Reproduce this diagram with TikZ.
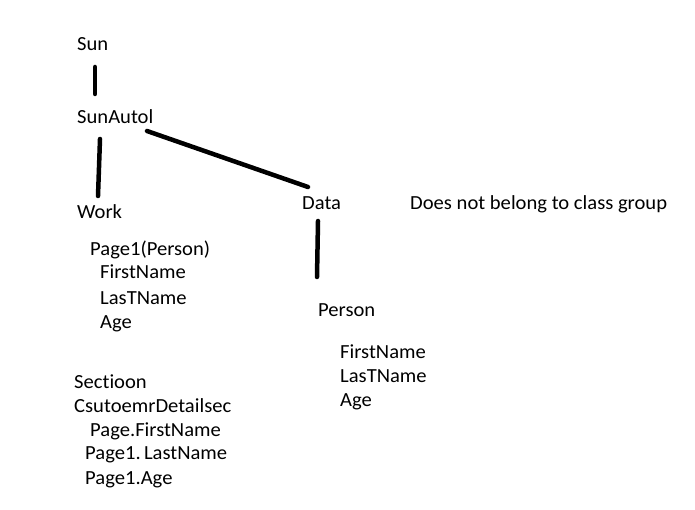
\documentclass[tikz,border=0pt]{standalone}
\usepackage{fontspec}
\setmainfont{Carlito}[Ligatures={NoCommon},FakeStretch=1.03]
\begin{document}
\begin{tikzpicture}[x=1pt,y=-1pt,
  lbl/.style={anchor=base west,inner sep=0pt,font=\fontsize{20}{22}\selectfont},
  link/.style={line width=4.5pt,line cap=round}]
\useasboundingbox[fill=white] (0,0) rectangle (695,510);
\node[lbl] (sun) at (77,51) {Sun};
\node[lbl] (auto) at (77,124) {SunAutol};
\node[lbl] (work) at (77,219) {Work};
\node[lbl] (data) at (302,210) {Data};
\node[lbl] (note) at (410,210) {Does not belong to class group};
\node[lbl] (p1) at (90,256) {Page1(Person)};
\node[lbl] (p1f) at (100,279) {FirstName};
\node[lbl] (p1l) at (100,304) {LasTName};
\node[lbl] (p1a) at (100,328) {Age};
\node[lbl] (person) at (318,316) {Person};
\node[lbl] (pf) at (340,358) {FirstName};
\node[lbl] (pl) at (340,382) {LasTName};
\node[lbl] (pa) at (340,406) {Age};
\node[lbl] (sec) at (74,388) {Sectioon};
\node[lbl] (cust) at (74,412) {CsutoemrDetailsec};
\node[lbl] (sf) at (90,436) {Page.FirstName};
\node[lbl] (sl) at (85,459) {Page1.\,LastName};
\node[lbl] (sa) at (85,484) {Page1.Age};
\coordinate (a1) at (95,67);
\coordinate (a2) at (95,94);
\coordinate (b1) at (100,139);
\coordinate (b2) at (98,196);
\coordinate (c1) at (147,131);
\coordinate (c2) at (308,187);
\coordinate (d1) at (318,221);
\coordinate (d2) at (317,277);
\draw[link] (a1) -- (a2);
\draw[link] (b1) -- (b2);
\draw[link] (c1) -- (c2);
\draw[link] (d1) -- (d2);
\end{tikzpicture}
\end{document}
